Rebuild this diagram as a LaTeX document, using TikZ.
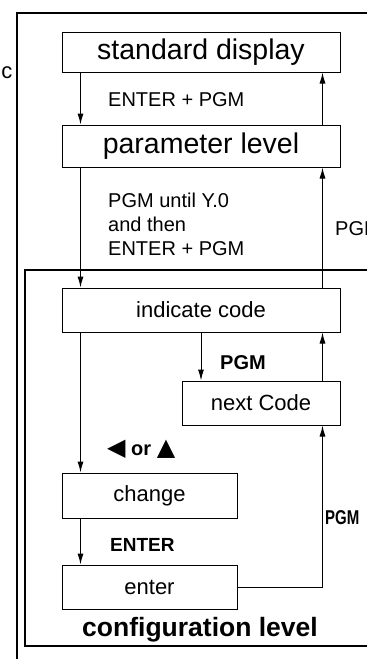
\documentclass[tikz,border=0pt]{standalone}
\usepackage{fontspec}
\setmainfont{Liberation Sans}
\newfontfamily\symfont{DejaVu Sans}
\usepackage{tikz}
\usetikzlibrary{arrows.meta,positioning,calc}

\begin{document}
\begin{tikzpicture}[x=1pt, y=-1pt,
    box/.style={draw, line width=1pt, inner sep=0pt},
    bigbox/.style={box, minimum width=278pt, font=\fontsize{28.5}{30}\selectfont},
    smallbox/.style={box, font=\fontsize{22}{24}\selectfont},
    flow/.style={line width=1pt, -{Latex[length=11pt,width=6pt]}},
    lbl/.style={anchor=west, inner sep=0pt, font=\fontsize{20}{24}\selectfont},
    keylbl/.style={anchor=west, inner sep=0pt, font=\bfseries\fontsize{20}{22}\selectfont}]
    \useasboundingbox (0, 0) rectangle (367, 659);
    % frames
    \draw[line width=1.1pt] (17, 659) -- (17, 13) -- (367, 13);
    \draw[line width=1.1pt] (367, 270) -- (25, 270) -- (25, 646) -- (367, 646);
    \node[inner sep=0pt, font=\fontsize{22}{24}\selectfont] (cut) at (7, 73) {c};
    % boxes
    \node[bigbox, minimum height=40pt] (std) at (201, 52) {standard display};
    \node[bigbox, minimum height=42pt] (par) at (201, 146) {parameter level};
    \node[smallbox, minimum width=278pt, minimum height=44pt] (ind) at (201, 310) {indicate code};
    \node[smallbox, minimum width=158pt, minimum height=44pt] (nxt) at (261, 403) {next Code};
    \node[smallbox, minimum width=175pt, minimum height=45pt] (chg) at (149.5, 495.5) {change};
    \node[smallbox, minimum width=175pt, minimum height=44pt] (ent) at (149.5, 587) {enter};
    % labels
    \node[lbl] (l1) at (108, 100) {ENTER + PGM};
    \node[lbl, align=left] (l2) at (108, 224) {PGM until Y.0\\and then\\ENTER + PGM};
    \node[lbl] (l3) at (335, 229) {PGM};
    \node[keylbl] (l4) at (220, 363) {PGM};
    \node[keylbl] (l5) at (107, 449) {{\symfont\fontsize{24}{24}\selectfont ◀} or {\symfont\fontsize{24}{24}\selectfont ▲}};
    \node[keylbl, font=\bfseries\fontsize{19}{22}\selectfont] (l6) at (110, 545) {ENTER};
    \node[keylbl] (l7) at (325, 518) {\scalebox{0.75}[1]{PGM}};
    \node[keylbl, font=\bfseries\fontsize{26.5}{28}\selectfont] (cfg) at (82, 630) {configuration level};
    % connectors
    \draw[flow] ([xshift=19pt]std.south west) -- ([xshift=19pt]par.north west);
    \draw[flow] ([xshift=-18pt]par.north east) -- ([xshift=-18pt]std.south east);
    \draw[flow] ([xshift=19pt]par.south west) -- ([xshift=19pt]ind.north west);
    \draw[flow] ([xshift=-18pt]ind.north east) -- ([xshift=-18pt]par.south east);
    \draw[flow] (ind.south) -- (ind.south |- nxt.north);
    \draw[flow] ([xshift=-18pt]nxt.north east) -- ([xshift=-18pt]ind.south east);
    \draw[flow] ([xshift=19pt]ind.south west) -- ([xshift=19pt]chg.north west);
    \draw[flow] ([xshift=19pt]chg.south west) -- ([xshift=19pt]ent.north west);
    \draw[flow] (ent.east) -| ([xshift=-18pt]nxt.south east);
\end{tikzpicture}
\end{document}
